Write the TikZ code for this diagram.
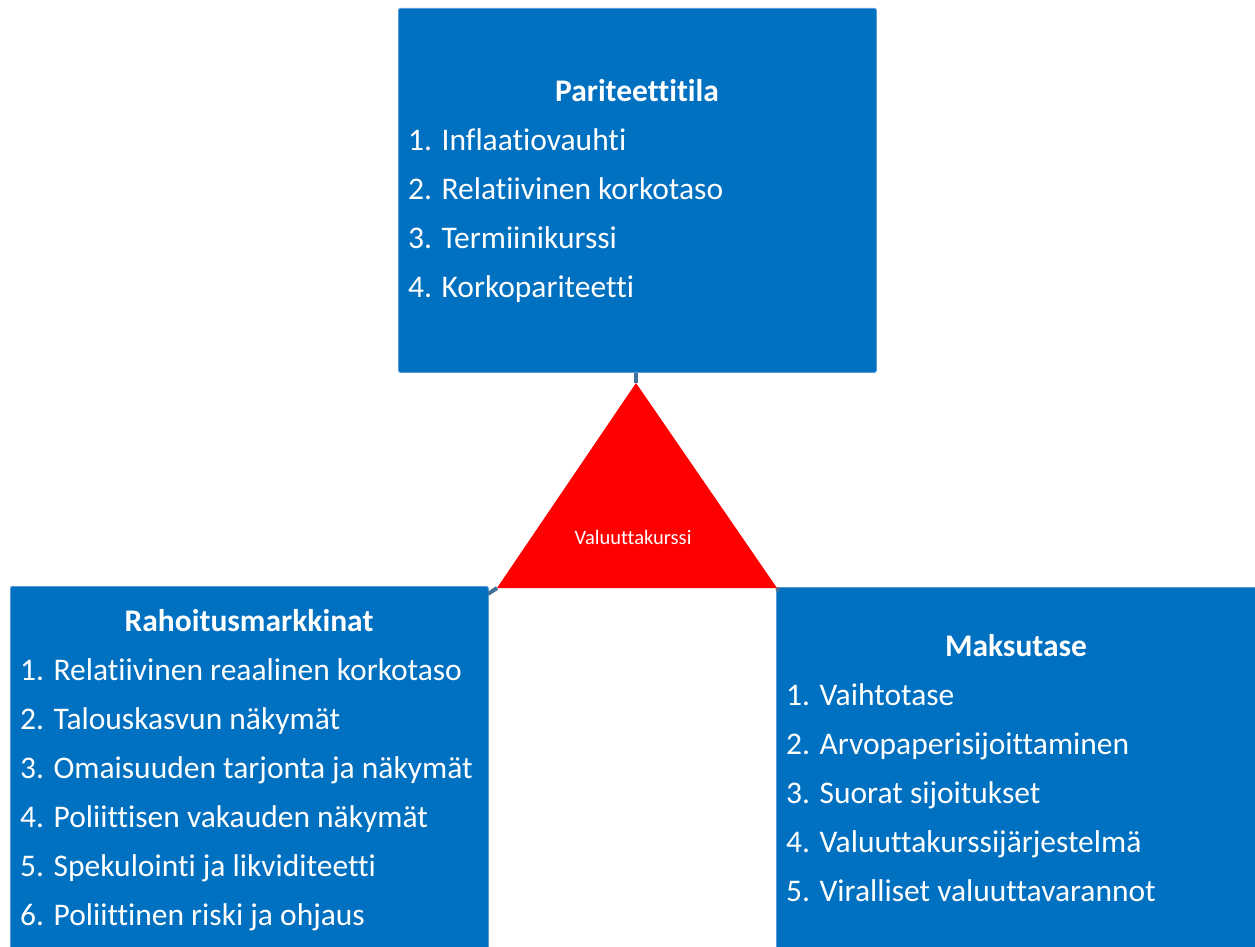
\documentclass[tikz,border=0pt]{standalone}
\usepackage{fontspec}
\setmainfont{Carlito}[Ligatures=NoCommon]
\definecolor{boxblue}{HTML}{0070C0}
\definecolor{boxedge}{HTML}{5B9BD5}
\definecolor{linkblue}{HTML}{41719C}
\definecolor{trired}{HTML}{FF0000}
\begin{document}
\begin{tikzpicture}[x=1pt,y=-1pt,
  panel/.style={fill=boxblue,draw=boxedge,line width=0.8pt,rounded corners=2pt,anchor=north west,inner sep=0pt},
  ttl/.style={text=white,font=\fontsize{31.5}{38}\selectfont\bfseries,anchor=base,inner sep=0pt},
  itm/.style={text=white,font=\fontsize{31.5}{38}\selectfont,anchor=base west,inner sep=0pt},
  link/.style={draw=linkblue,line width=4pt},
  tlabel/.style={text=white,font=\fontsize{20.5}{24}\selectfont,inner sep=0pt}]
\useasboundingbox (0,0) rectangle (1255,947);
\clip (0,0) rectangle (1255,947);
% boxes
\node[panel,minimum width=478pt,minimum height=364pt] (top) at (398,8) {};
\node[panel,minimum width=478pt,minimum height=380pt] (left) at (10,586) {};
\node[panel,minimum width=490pt,minimum height=380pt] (right) at (776,587) {};
% triangle
\coordinate (apex) at (636,383);
\coordinate (bl) at (497,588);
\coordinate (br) at (777,588);
\coordinate (lc) at (488,594);
\coordinate (rc) at (779,591);
\draw[link] (top.south -| apex) -- (apex);
\draw[link] (lc) -- (bl);
\draw[link] (br) -- (rc);
\fill[trired] (apex) -- (bl) -- (br) -- cycle;
\node[tlabel] (val) at (633,537) {Valuuttakurssi};
% top texts
\node[ttl] (t0) at (637,102) {Pariteettitila};
\node[itm] (t1) at (408,150) {1. Inflaatiovauhti};
\node[itm] (t2) at (408,199) {2. Relatiivinen korkotaso};
\node[itm] (t3) at (408,248) {3. Termiinikurssi};
\node[itm] (t4) at (408,297) {4. Korkopariteetti};
% left texts
\node[ttl] (l0) at (249,631) {Rahoitusmarkkinat};
\node[itm] (l1) at (20,680) {1. Relatiivinen reaalinen korkotaso};
\node[itm] (l2) at (20,729) {2. Talouskasvun näkymät};
\node[itm] (l3) at (20,778) {3. Omaisuuden tarjonta ja näkymät};
\node[itm] (l4) at (20,827) {4. Poliittisen vakauden näkymät};
\node[itm] (l5) at (20,876) {5. Spekulointi ja likviditeetti};
\node[itm] (l6) at (20,925) {6. Poliittinen riski ja ohjaus};
% right texts
\node[ttl] (r0) at (1016,656) {Maksutase};
\node[itm] (r1) at (786,705) {1. Vaihtotase};
\node[itm] (r2) at (786,754) {2. Arvopaperisijoittaminen};
\node[itm] (r3) at (786,803) {3. Suorat sijoitukset};
\node[itm] (r4) at (786,852) {4. Valuuttakurssijärjestelmä};
\node[itm] (r5) at (786,901) {5. Viralliset valuuttavarannot};
\end{tikzpicture}
\end{document}
